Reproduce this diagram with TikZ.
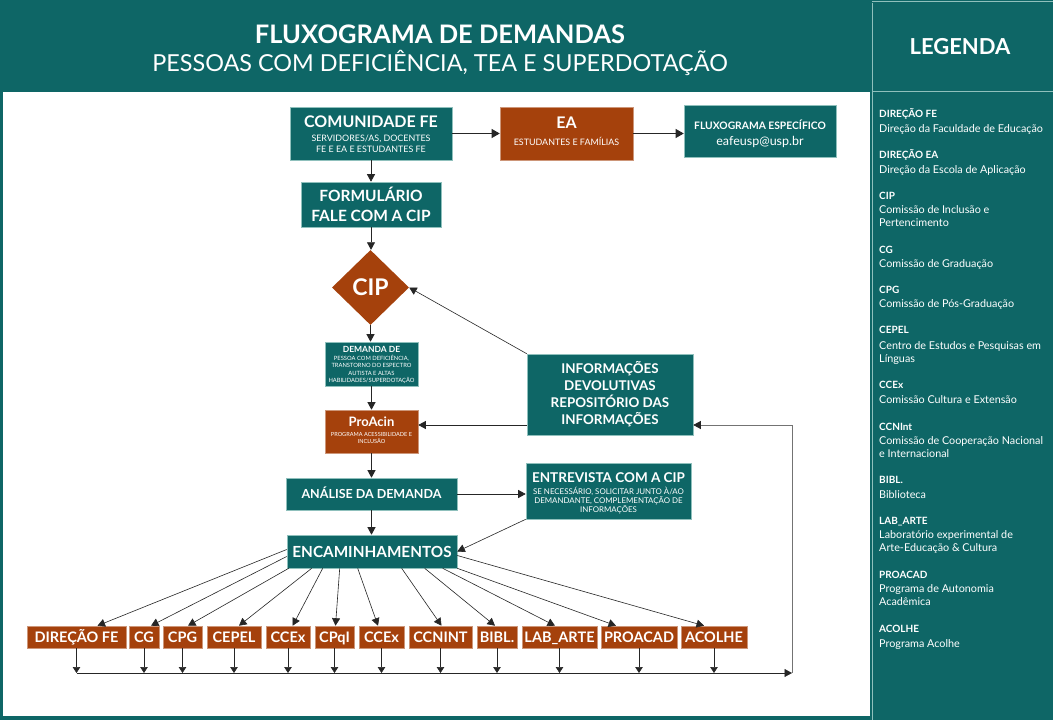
\documentclass[tikz,border=0pt]{standalone}
\usepackage{fontspec}
\setmainfont{Lato}
\usetikzlibrary{shapes.geometric,arrows.meta,calc}
\definecolor{tealc}{HTML}{0E6666}
\definecolor{rust}{HTML}{A5410C}
\definecolor{edgec}{HTML}{8FC0BC}
\newcommand\fsz[2]{\fontsize{#1}{#2}\selectfont}
\begin{document}
\begin{tikzpicture}[x=1pt,y=-1pt,
  tbox/.style={fill=tealc, draw=edgec, line width=0.6pt, text=white, align=center, inner sep=0pt},
  rbox/.style={fill=rust, draw=rust!55!white, line width=0.6pt, text=white, align=center, inner sep=0pt},
  txt/.style={text=white, inner sep=0pt, align=center},
  bot/.style={rbox, minimum height=22pt, font=\bfseries\fsz{14.5}{16}, text height=10.4pt, text depth=0pt},
  legb/.style={text=white, inner sep=0pt, anchor=base west, font=\bfseries\fsz{10}{12}},
  legt/.style={text=white, inner sep=0pt, anchor=base west, font=\fsz{10.8}{13}},
  arr/.style={draw=black!85, line width=0.7pt, -{Triangle[length=8pt,width=9pt]}},
  arrm/.style={draw=black!85, line width=0.6pt, -{Triangle[length=7.5pt,width=8pt]}},
  arrs/.style={draw=black!85, line width=0.6pt, -{Triangle[length=6pt,width=7.5pt]}},
]
\useasboundingbox (0,0) rectangle (1053,720);
% background and panels
\fill[tealc] (0,0) rectangle (1053,720);
\fill[white] (3,92) rectangle (870,716);
\draw[edgec, line width=0.8pt] (872,3) -- (872,720);
\draw[edgec, line width=0.8pt] (872,91) -- (1053,91);
\draw[edgec, line width=0.8pt] (872,1.5) -- (1053,1.5);

% header
\node[txt, font=\bfseries\fsz{25.5}{28}] (title) at (440,34) {FLUXOGRAMA DE DEMANDAS};
\node[txt, font=\fsz{23.4}{26}] (subtitle) at (440,63) {PESSOAS COM DEFICIÊNCIA, TEA E SUPERDOTAÇÃO};
\node[txt, font=\bfseries\fsz{22}{24}] (legtitle) at (960,47) {LEGENDA};

% top row
\node[tbox, minimum width=162pt, minimum height=53pt] (comu) at (371,133.5) {};
\node[txt, font=\bfseries\fsz{16}{18}] (comut) at (371,122) {COMUNIDADE FE};
\node[txt, font=\fsz{8.9}{11}] (comus) at (371,143.5) {SERVIDORES/AS, DOCENTES\\FE E EA E ESTUDANTES FE};

\node[rbox, minimum width=133pt, minimum height=53pt] (ea) at (566.5,133.5) {};
\node[txt, font=\bfseries\fsz{16}{18}] (eat) at (566.5,123) {EA};
\node[txt, font=\fsz{8.9}{10}] (eas) at (566.5,141.5) {ESTUDANTES E FAMÍLIAS};

\node[tbox, minimum width=152pt, minimum height=52pt] (fluxo) at (760,131) {};
\node[txt, font=\bfseries\fsz{10.3}{12}] (fluxot) at (760,125) {FLUXOGRAMA ESPECÍFICO};
\node[txt, font=\fsz{12.5}{14}] (fluxos) at (760,141.5) {eafeusp@usp.br};

% main column
\node[tbox, minimum width=140pt, minimum height=45pt, font=\bfseries\fsz{15.5}{20}] (form) at (371,204.5) {FORMULÁRIO\\FALE COM A CIP};

\node[diamond, fill=rust, inner sep=0pt, minimum width=77pt, minimum height=75pt,
      text=white, font=\bfseries\fsz{23}{25}] (cip) at (370.5,287.5) {CIP};

\node[tbox, minimum width=93pt, minimum height=44pt] (dem) at (371.5,364) {};
\node[txt, font=\bfseries\fsz{8.5}{10}] (demt) at (371.5,349) {DEMANDA DE};
\node[txt, font=\fsz{5.8}{7.4}] (dems) at (371.5,369.5) {PESSOA COM DEFICIÊNCIA,\\TRANSTORNO DO ESPECTRO\\AUTISTA E ALTAS\\HABILIDADES/SUPERDOTAÇÃO};

\node[rbox, minimum width=93pt, minimum height=43pt] (proacin) at (371.5,431.5) {};
\node[txt, font=\bfseries\fsz{13}{15}] (proacint) at (371.5,421.5) {ProAcin};
\node[txt, font=\fsz{5.6}{7}] (proacins) at (371.5,437.5) {PROGRAMA ACESSIBILIDADE E\\INCLUSÃO};

\node[tbox, minimum width=171pt, minimum height=32pt, font=\bfseries\fsz{12.5}{14}, text height=9pt, text depth=0pt] (anal) at (371.5,494) {ANÁLISE DA DEMANDA};

\node[tbox, minimum width=165pt, minimum height=56pt] (entr) at (608.5,491) {};
\node[txt, font=\bfseries\fsz{13.5}{15}] (entrt) at (608.5,478) {ENTREVISTA COM A CIP};
\node[txt, font=\fsz{7.9}{8.8}] (entrs) at (608.5,500.5) {SE NECESSÁRIO, SOLICITAR JUNTO À/AO\\DEMANDANTE, COMPLEMENTAÇÃO DE\\INFORMAÇÕES};

\node[tbox, minimum width=170pt, minimum height=33pt, font=\bfseries\fsz{15.3}{17}, text height=11pt, text depth=0pt] (enc) at (372,551.5) {ENCAMINHAMENTOS};

\node[tbox, minimum width=166pt, minimum height=81pt, font=\bfseries\fsz{13.4}{16.9}] (info) at (610,394.5) {INFORMAÇÕES\\DEVOLUTIVAS\\REPOSITÓRIO DAS\\INFORMAÇÕES};

% bottom row
\foreach \n/\x/\w/\t in {dfe/76.5/99/DIREÇÃO FE, cg/144/30/CG, cpg/182.5/39/CPG, cepel/234/54/CEPEL,
   ccexa/288/44/CCEx, cpqi/334.5/39/CPqI, ccexb/381.5/45/CCEx, ccnint/440.5/63/CCNINT,
   bibl/497/40/BIBL., lab/559.5/75/LAB\_ARTE, proacad/639/76/PROACAD, acolhe/714/66/ACOLHE}{
  \node[bot, minimum width=\w pt] (\n) at (\x,637) {\t};
}

% connectors: main
\draw[arr] (comu.east) -- (ea.west);
\draw[arr] (ea.east) -- (ea.east -| fluxo.west);
\draw[arrm] (comu.south) -- (comu.south |- form.north);
\draw[arrm] (form.south) -- (form.south |- cip.north);
\draw[arrm] (cip.south) -- (cip.south |- dem.north);
\draw[arrm] (dem.south) -- (dem.south |- proacin.north);
\draw[arrm] (proacin.south) -- (proacin.south |- anal.north);
\draw[arrm] (anal.south) -- (anal.south |- enc.north);
\draw[arrm] (anal.east) -- (anal.east -| entr.west);
\draw[arrm] (entr.south west) -- (enc.east);
\draw[arrm] (info.north west) -- (cip.east);

\coordinate (busL) at (76.5,673);
\coordinate (busR) at (792,673);
\coordinate (loopT) at (792,425);
\draw[arrm] (loopT -| info.west) -- (loopT -| proacin.east);
\draw[arrm] (busL) -- (busR);
\draw[draw=black!55, line width=0.6pt, -{Triangle[length=7.5pt,width=8pt,color=black!85]}] (busR) -- (loopT) -- (loopT -| info.east);

% encaminhamentos fan-out
\draw[arrm] ([yshift=2pt]enc.west) -- ([xshift=21pt]dfe.north);
\draw[arrm] ([yshift=-5pt]enc.west) -- ([xshift=7pt]cg.north);
\draw[arrm] ([xshift=2pt]enc.south west) -- ([xshift=5.5pt]cpg.north);
\draw[arrm] ([xshift=25pt]enc.south west) -- ([xshift=5pt]cepel.north);
\draw[arrm] ([xshift=36pt]enc.south west) -- ([xshift=4.7pt]ccexa.north);
\draw[arrm] ([xshift=53pt]enc.south west) -- ([xshift=1pt]cpqi.north);
\draw[arrm] ([xshift=71pt]enc.south west) -- ([xshift=-3.5pt]ccexb.north);
\draw[arrm] ([xshift=115pt]enc.south west) -- ([xshift=1pt]ccnint.north);
\draw[arrm] ([xshift=138pt]enc.south west) -- ([xshift=-2pt]bibl.north);
\draw[arrm] ([xshift=156pt]enc.south west) -- ([xshift=-4.5pt]lab.north);
\draw[arrm] (enc.south east) -- ([xshift=-23pt]proacad.north);
\draw[arrm] ([yshift=-4pt]enc.east) -- ([xshift=-10pt]acolhe.north);

\foreach \n in {dfe,cg,cpg,cepel,ccexa,cpqi,ccexb,ccnint,bibl,lab,proacad,acolhe}{
  \draw[arrs] (\n.south) -- (\n.south |- busL);
}

% legend
\foreach \i/\y/\t in {1/117.6/DIREÇÃO FE, 2/158.6/DIREÇÃO EA, 3/199.6/CIP, 4/253.6/CG, 5/293.6/CPG,
   6/333.6/CEPEL, 7/388.6/CCEx, 8/430.3/CCNInt, 9/483.6/BIBL., 10/524.6/LAB\_ARTE, 11/578.6/PROACAD, 12/632.9/ACOLHE}{
  \node[legb] (lb\i) at (879,\y) {\t};
}
\foreach \i/\y/\t in {1/132.3/Direção da Faculdade de Educação, 2/173/Direção da Escola de Aplicação,
   3/213/Comissão de Inclusão e, 4/226.7/Pertencimento, 5/267.3/Comissão de Graduação,
   6/307.3/Comissão de Pós-Graduação, 7/349/Centro de Estudos e Pesquisas em, 8/362.3/Línguas,
   9/403.3/Comissão Cultura e Extensão, 10/444/Comissão de Cooperação Nacional, 11/457.3/e Internacional,
   12/498/Biblioteca, 13/538/Laboratório experimental de, 14/551.7/Arte-Educação \& Cultura,
   15/592.3/Programa de Autonomia, 16/605.7/Acadêmica, 17/647.3/Programa Acolhe}{
  \node[legt] (lt\i) at (879,\y) {\t};
}
\end{tikzpicture}
\end{document}
